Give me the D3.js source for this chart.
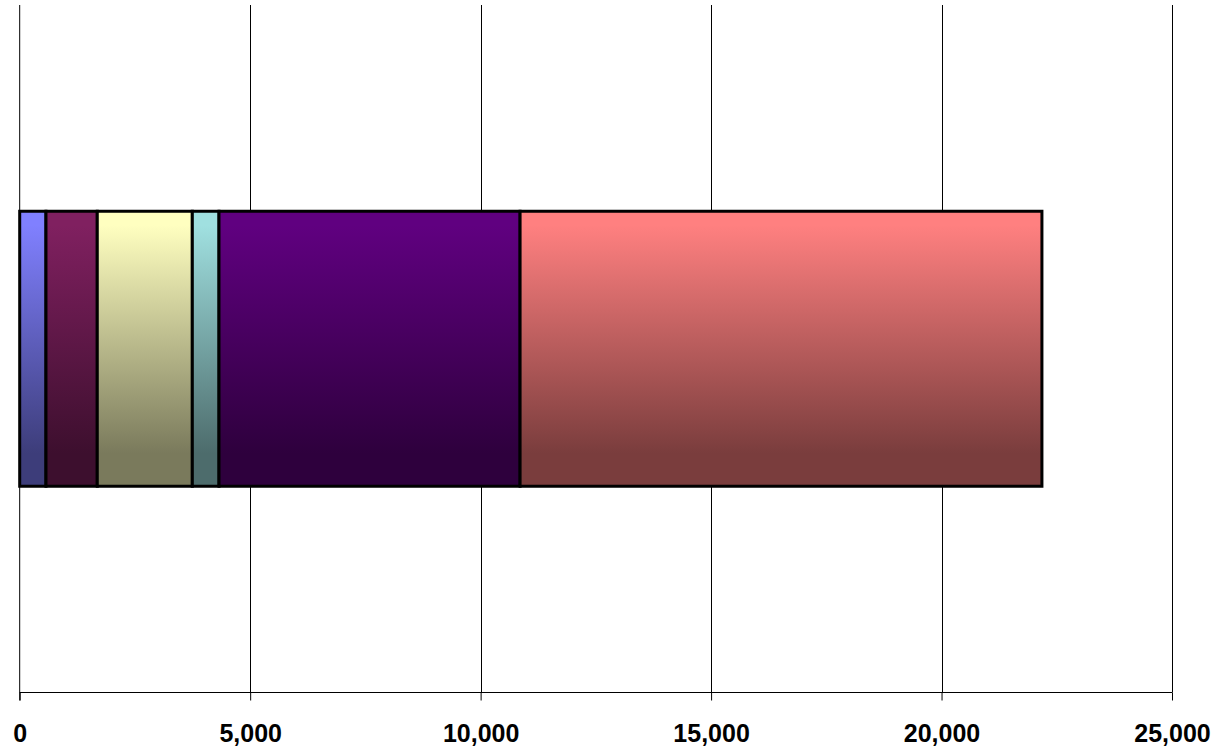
<!DOCTYPE html>
<html><head><meta charset="utf-8">
<script src="https://cdn.jsdelivr.net/npm/d3@7/dist/d3.min.js"></script>
<style>body{margin:0;background:#fff}svg{display:block}</style>
</head><body>
<svg id="c" width="1232" height="748"></svg>
<script>
const categories = ["Total"];
const seriesNames = ["S1","S2","S3","S4","S5","S6"];
const seriesValues = [570, 1113, 2062, 579, 6532, 11322];
const seriesColors = ["#8080FF","#802060","#FFFFC0","#A0E0E0","#600080","#FF8080"];
const tickValues = [0,5000,10000,15000,20000,25000];

(function(){
const svg = d3.select("#c");
const pL = 19.7, pR = 1172, pT = 5, pB = 692.5;
const x = d3.scaleLinear().domain([0,25000]).range([pL,pR]);
const y = d3.scaleBand().domain(categories).range([pT,pB]).paddingInner(0).paddingOuter(0.75);

const defs = svg.append("defs");
seriesColors.forEach((c,i)=>{
  const g = defs.append("linearGradient").attr("id","g"+i).attr("x1",0).attr("y1",0).attr("x2",0).attr("y2",1);
  const dark = d3.interpolateRgb(c,"#000")(0.52);
  g.append("stop").attr("offset","5%").attr("stop-color",c);
  g.append("stop").attr("offset","88%").attr("stop-color",dark);
});

svg.append("g").selectAll("line").data(tickValues.slice(1)).join("line")
  .attr("x1",d=>Math.round(x(d))+0.5).attr("x2",d=>Math.round(x(d))+0.5)
  .attr("y1",pT).attr("y2",pB)
  .attr("stroke","#000").attr("stroke-width",1);

let acc = 0;
const segs = seriesValues.map((v,i)=>{const s={x0:acc,x1:acc+v,i}; acc+=v; return s;});

svg.append("g").selectAll("rect").data(segs).join("rect")
  .attr("x",d=>x(d.x0)).attr("width",d=>x(d.x1)-x(d.x0))
  .attr("y",y("Total")).attr("height",y.bandwidth())
  .attr("fill",d=>"url(#g"+d.i+")")
  .attr("stroke","#000").attr("stroke-width",3);

const ax = svg.append("g").attr("transform",`translate(0,${pB})`)
  .call(d3.axisBottom(x).tickValues(tickValues).tickSize(8).tickFormat(d3.format(",")));
ax.select(".domain").remove();
ax.selectAll(".tick line").attr("stroke","#000").attr("stroke-width",1);
ax.selectAll("text").attr("font-family","Liberation Sans, Arial, sans-serif")
  .attr("font-weight","bold").attr("font-size","25px").attr("fill","#000")
  .attr("dy",null).attr("y",49);
svg.append("line").attr("x1",pL).attr("x2",pR).attr("y1",pB).attr("y2",pB).attr("stroke","#000");
svg.append("line").attr("x1",pL).attr("x2",pL).attr("y1",pT).attr("y2",pB+8).attr("stroke","#000");
})();
</script>
</body></html>
